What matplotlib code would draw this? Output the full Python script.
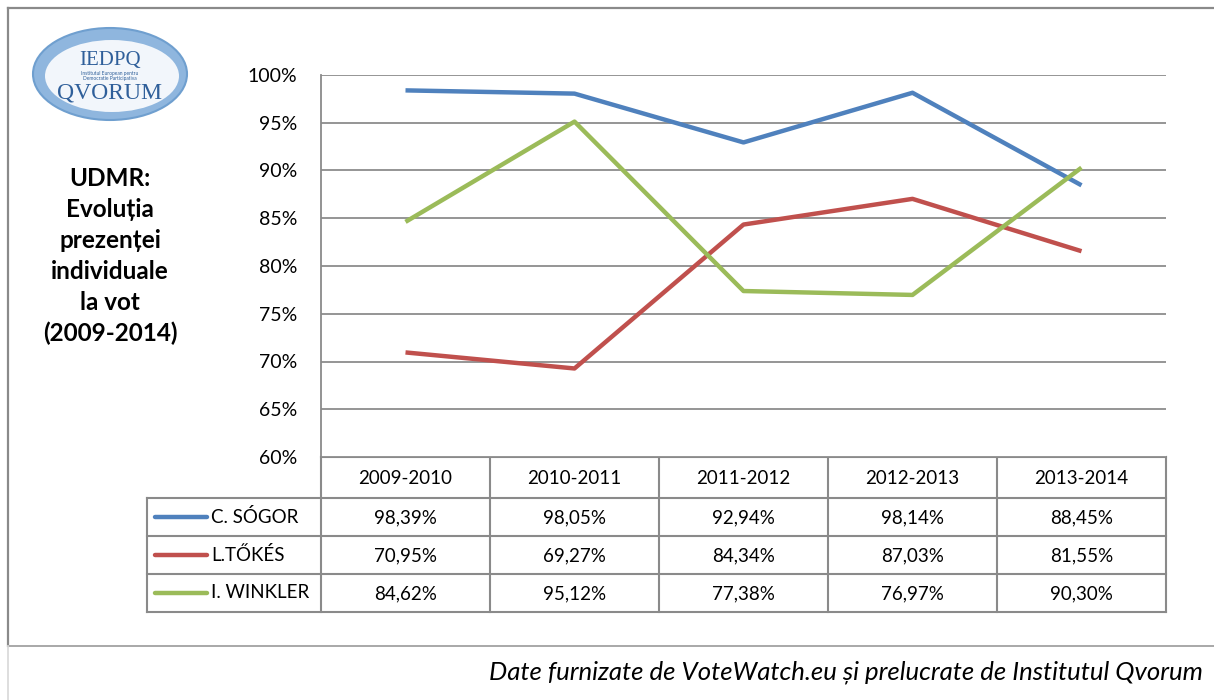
import numpy as np
import matplotlib.pyplot as plt
from matplotlib.patches import Ellipse

plt.rcParams['font.family'] = ['Lato', 'DejaVu Sans']

periods = ['2009-2010', '2010-2011', '2011-2012', '2012-2013', '2013-2014']
names = ['C. SÓGOR', 'L.TŐKÉS', 'I. WINKLER']
sogor = [98.39, 98.05, 92.94, 98.14, 88.45]
tokes = [70.95, 69.27, 84.34, 87.03, 81.55]
winkler = [84.62, 95.12, 77.38, 76.97, 90.30]
colors = ['#4F81BD', '#C0504D', '#9BBB59']
yticks = [60, 65, 70, 75, 80, 85, 90, 95, 100]

W, H = 1214, 700
fig = plt.figure(figsize=(W / 100, H / 100), dpi=100)

# background layer in pixel coords
bg = fig.add_axes([0, 0, 1, 1])
bg.set_xlim(0, W)
bg.set_ylim(H, 0)
bg.axis('off')

gray = '#8a8a8a'
bg.plot([8, 8], [8, 646], color=gray, lw=1.6)
bg.plot([8, W], [8, 8], color=gray, lw=1.6)
bg.plot([8, W], [646, 646], color='#a8a8a8', lw=1.4)
bg.plot([8, 8], [646, H], color='#d8d8d8', lw=1.2)

# logo
bg.add_patch(Ellipse((110, 74), 154, 92, facecolor='#8fb6de', edgecolor='#6f9fcf', lw=1.5))
bg.add_patch(Ellipse((112, 76), 134, 72, facecolor='#f2f6fb', edgecolor='none'))
bg.text(110, 60, 'IEDPQ', ha='center', va='center', fontsize=15,
        family='Liberation Serif', color='#2f5f9a')
bg.text(110, 76, 'Institutul European pentru\nDemocratie Participativa', ha='center',
        va='center', fontsize=3.5, color='#2f5f9a', linespacing=0.9)
bg.text(110, 93, 'QVORUM', ha='center', va='center', fontsize=17,
        family='Liberation Serif', color='#2f5f9a')

bg.text(110, 256, 'UDMR:\nEvoluția\nprezenței\nindividuale\nla vot\n(2009-2014)',
        ha='center', va='center', fontsize=17.5, fontweight='bold', linespacing=1.42)

bg.text(1203, 672, 'Date furnizate de VoteWatch.eu și prelucrate de Institutul Qvorum',
        ha='right', va='center', fontsize=18.5, style='italic')

# main chart
x0, x1, ytop, ybot = 321, 1166, 75, 457
ax = fig.add_axes([x0 / W, 1 - ybot / H, (x1 - x0) / W, (ybot - ytop) / H])
ax.set_xlim(-0.5, len(periods) - 0.5)
ax.set_ylim(60, 100)
ax.set_yticks(yticks)
ax.set_yticklabels(['%d%%' % v for v in yticks], fontsize=14)
ax.tick_params(axis='y', length=0, pad=17)
ax.set_xticks([])
ax.grid(axis='y', color='#8c8c8c', lw=1.3)
ax.set_axisbelow(True)
for s in ['top', 'right', 'bottom']:
    ax.spines[s].set_visible(False)
ax.spines['left'].set_color(gray)
ax.spines['left'].set_linewidth(1.3)

series = [sogor, tokes, winkler]
xs = np.arange(len(periods))
for vals, c in zip(series, colors):
    ax.plot(xs, vals, color=c, lw=3.2, solid_capstyle='butt')

# data table
colw = (x1 - x0) / len(periods)
edges = [x0 + i * colw for i in range(len(periods) + 1)]
rows = [457, 498, 536, 574, 612]
lx = 147
tc = '#8a8a8a'
tlw = 1.5
bg.plot([x0, x1], [rows[0], rows[0]], color=tc, lw=tlw)
for r in rows[1:]:
    bg.plot([lx, x1], [r, r], color=tc, lw=tlw)
bg.plot([lx, lx], [rows[1], rows[-1]], color=tc, lw=tlw)
for e in edges:
    bg.plot([e, e], [rows[0], rows[-1]], color=tc, lw=tlw)

for i, p in enumerate(periods):
    bg.text((edges[i] + edges[i + 1]) / 2, (rows[0] + rows[1]) / 2 + 1, p,
            ha='center', va='center', fontsize=13.5)
for j, (nm, vals, c) in enumerate(zip(names, series, colors)):
    yc = (rows[j + 1] + rows[j + 2]) / 2
    bg.plot([155, 207], [yc, yc], color=c, lw=3.2, solid_capstyle='round')
    bg.text(211, yc, nm, ha='left', va='center', fontsize=13.5)
    for i, v in enumerate(vals):
        bg.text((edges[i] + edges[i + 1]) / 2, yc + 1, ('%.2f%%' % v).replace('.', ','),
                ha='center', va='center', fontsize=13.5)

fig.savefig('out.png', dpi=100)
